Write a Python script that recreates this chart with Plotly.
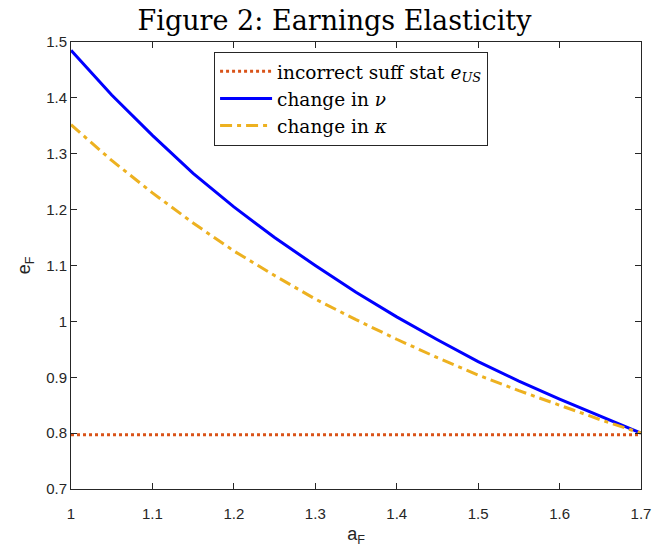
import plotly.graph_objects as go

a_F = [1.0, 1.05, 1.1, 1.15, 1.2, 1.25, 1.3, 1.35, 1.4, 1.45, 1.5, 1.55, 1.6, 1.65, 1.7]
e_nu = [1.485, 1.405, 1.333, 1.265, 1.205, 1.150, 1.100, 1.052, 1.008, 0.967, 0.928, 0.893, 0.861, 0.830, 0.800]
e_kappa = [1.352, 1.288, 1.230, 1.176, 1.126, 1.082, 1.040, 1.003, 0.968, 0.935, 0.904, 0.876, 0.850, 0.824, 0.800]
e_US = [0.797] * len(a_F)

x_ticks = [1, 1.1, 1.2, 1.3, 1.4, 1.5, 1.6, 1.7]
x_labels = ["1", "1.1", "1.2", "1.3", "1.4", "1.5", "1.6", "1.7"]
y_ticks = [0.7, 0.8, 0.9, 1.0, 1.1, 1.2, 1.3, 1.4, 1.5]
y_labels = ["0.7", "0.8", "0.9", "1", "1.1", "1.2", "1.3", "1.4", "1.5"]

fig = go.Figure()
fig.add_trace(go.Scatter(x=a_F, y=e_US, mode="lines",
                         name="incorrect suff stat <i>e</i><sub><i>US</i></sub>",
                         line=dict(color="#D95319", width=3, dash="dot")))
fig.add_trace(go.Scatter(x=a_F, y=e_nu, mode="lines",
                         name="change in <i>ν</i>",
                         line=dict(color="#0000FF", width=3)))
fig.add_trace(go.Scatter(x=a_F, y=e_kappa, mode="lines",
                         name="change in <i>κ</i>",
                         line=dict(color="#EDB120", width=3, dash="12px,5px,4px,5px")))

axis_common = dict(showgrid=False, zeroline=False, showline=True, linecolor="#262626",
                   linewidth=1, mirror="ticks", ticks="inside", ticklen=6, tickcolor="#262626",
                   automargin=False,
                   tickfont=dict(family="Liberation Sans, Arial, sans-serif", size=15, color="#262626"))

fig.update_layout(
    width=669, height=550,
    margin=dict(l=71, r=28, t=42, b=61),
    paper_bgcolor="white", plot_bgcolor="white",
    title=dict(text="Figure 2: Earnings Elasticity", x=0.5, xanchor="center", y=0.98, yanchor="top",
               font=dict(family="DejaVu Serif, serif", size=27, color="black")),
    xaxis=dict(range=[1, 1.7], tickvals=x_ticks, ticktext=x_labels, ticklabelstandoff=11,
               title=dict(text="a<sub>F</sub>", font=dict(family="Liberation Sans, Arial, sans-serif", size=18, color="#262626"), standoff=6),
               **axis_common),
    yaxis=dict(range=[0.7, 1.5], tickvals=y_ticks, ticktext=y_labels,
               title=dict(text="e<sub>F</sub>", font=dict(family="Liberation Sans, Arial, sans-serif", size=18, color="#262626"), standoff=10),
               **axis_common),
    legend=dict(x=0.251, y=0.978, xanchor="left", yanchor="top",
                bgcolor="white", bordercolor="#262626", borderwidth=1,
                font=dict(family="DejaVu Serif, serif", size=18.5, color="black"),
                tracegroupgap=0, itemwidth=52),
    showlegend=True,
)

fig.write_html("out.html")
